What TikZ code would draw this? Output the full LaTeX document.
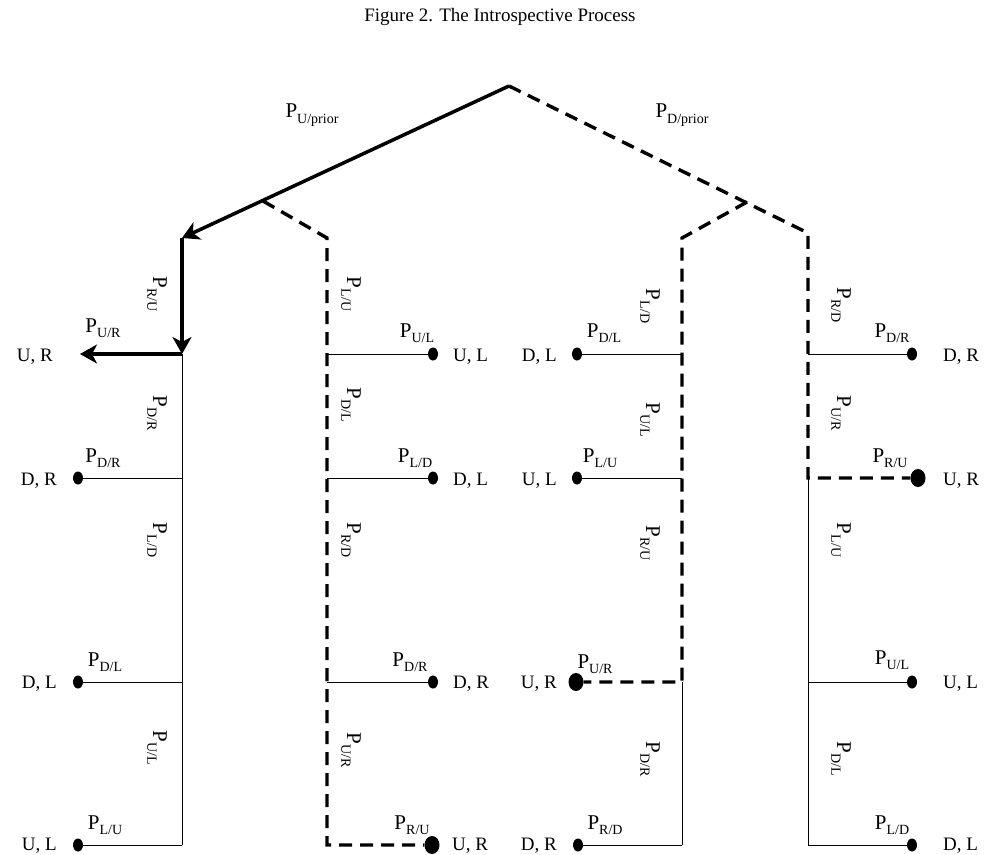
\documentclass[tikz,border=0pt]{standalone}
\usepackage{fontspec}
\setmainfont{Liberation Serif}
\usetikzlibrary{arrows.meta,shapes.geometric}
\newcommand\Pl[1]{P\raisebox{-0.28em}{\fontsize{14}{14}\selectfont #1}}
\begin{document}
\begin{tikzpicture}[x=1pt,y=-1pt,
  plab/.style={font=\fontsize{21}{22}\selectfont, inner sep=0pt},
  clab/.style={font=\fontsize{19}{20}\selectfont, inner sep=0pt},
  vlab/.style={plab, rotate=-90},
  dotn/.style={ellipse, fill=black, inner sep=0pt, minimum width=10pt, minimum height=13pt},
  bigdotn/.style={ellipse, fill=black, inner sep=0pt, minimum width=15pt, minimum height=18pt},
  thinln/.style={line width=1pt},
  boldln/.style={line width=3.5pt},
  dashln/.style={line width=3.4pt, dash pattern=on 13pt off 8pt},
  arr/.style={-{Stealth[length=17pt,width=19pt,inset=5pt]}}]
\useasboundingbox (0,0) rectangle (987,854);
\node[font=\fontsize{19}{20}\selectfont, inner sep=0pt] (title) at (500,17) {Figure 2. The Introspective Process};
% junction coordinates
\coordinate (apex) at (509,86);
\coordinate (lb) at (263,201);
\coordinate (rb) at (747,202);
\coordinate (L0) at (182,238);
\coordinate (L1) at (182,354);
\coordinate (L2) at (182,478);
\coordinate (L3) at (182,682);
\coordinate (L4) at (182,845);
\coordinate (A0) at (327,238);
\coordinate (A1) at (327,354);
\coordinate (A2) at (327,478);
\coordinate (A3) at (327,682);
\coordinate (A4) at (327,845);
\coordinate (B0) at (682,238);
\coordinate (B1) at (682,354);
\coordinate (B2) at (682,478);
\coordinate (B3) at (682,682);
\coordinate (B4) at (682,845);
\coordinate (C0) at (808,233);
\coordinate (C1) at (808,354);
\coordinate (C2) at (808,478);
\coordinate (C3) at (808,682);
\coordinate (C4) at (808,845);
\coordinate (Lend) at (80,354);
% dots
\node[dotn] (l2) at (78,478) {};
\node[dotn] (l3) at (78,682) {};
\node[dotn] (l4) at (78,845) {};
\node[dotn] (a1) at (433,354) {};
\node[dotn] (a2) at (433,478) {};
\node[dotn] (a3) at (433,682) {};
\node[bigdotn] (a4) at (432,845) {};
\node[dotn] (b1) at (577,354) {};
\node[dotn] (b2) at (577,478) {};
\node[bigdotn] (b3) at (576,682) {};
\node[dotn] (b4) at (578,845) {};
\node[dotn] (c1) at (912,354) {};
\node[bigdotn] (c2) at (918,478) {};
\node[dotn] (c3) at (912,682) {};
\node[dotn] (c4) at (912,845) {};
% left column
\draw[boldln, arr] (apex) -- (L0);
\draw[boldln, arr] (L0) -- (L1);
\draw[boldln, arr] (L1) -- (Lend);
\draw[thinln] (L1) -- (L4);
\draw[thinln] (L2) -- (l2);
\draw[thinln] (L3) -- (l3);
\draw[thinln] (L4) -- (l4);
% middle-left column
\draw[dashln] (lb) -- (A0) -- (A4) -- (a4);
\draw[thinln] (A1) -- (a1);
\draw[thinln] (A2) -- (a2);
\draw[thinln] (A3) -- (a3);
% middle-right column
\draw[dashln] (rb) -- (B0) -- (B3) -- (b3);
\draw[thinln] (B3) -- (B4);
\draw[thinln] (B1) -- (b1);
\draw[thinln] (B2) -- (b2);
\draw[thinln] (B4) -- (b4);
% right column
\draw[dashln] (apex) -- (C0) -- (C2) -- (c2);
\draw[thinln] (C2) -- (C4);
\draw[thinln] (C1) -- (c1);
\draw[thinln] (C3) -- (c3);
\draw[thinln] (C4) -- (c4);
% top labels
\node[plab] (pu) at (312,115) {\Pl{U/prior}};
\node[plab] (pd) at (682,115) {\Pl{D/prior}};
% state labels
\node[clab, anchor=base east] (tl1) at (53,361) {U, R};
\node[clab, anchor=base east] (tl2) at (57,485) {D, R};
\node[clab, anchor=base east] (tl3) at (57,688) {D, L};
\node[clab, anchor=base east] (tl4) at (57,850) {U, L};
\node[clab, anchor=base west] (ta1) at (453,361) {U, L};
\node[clab, anchor=base west] (ta2) at (453,485) {D, L};
\node[clab, anchor=base west] (ta3) at (453,688) {D, R};
\node[clab, anchor=base west] (ta4) at (452,850) {U, R};
\node[clab, anchor=base east] (tb1) at (557,361) {D, L};
\node[clab, anchor=base east] (tb2) at (557,485) {U, L};
\node[clab, anchor=base east] (tb3) at (557,688) {U, R};
\node[clab, anchor=base east] (tb4) at (557,850) {D, R};
\node[clab, anchor=base west] (tc1) at (943,361) {D, R};
\node[clab, anchor=base west] (tc2) at (943,485) {U, R};
\node[clab, anchor=base west] (tc3) at (943,688) {U, L};
\node[clab, anchor=base west] (tc4) at (943,850) {D, L};
% horizontal probability labels
\node[plab, anchor=base] (hl1) at (103,332) {\Pl{U/R}};
\node[plab, anchor=base] (hl2) at (103,462) {\Pl{D/R}};
\node[plab, anchor=base] (hl3) at (105,666) {\Pl{D/L}};
\node[plab, anchor=base] (hl4) at (105,829) {\Pl{L/U}};
\node[plab, anchor=base] (ha1) at (417,337) {\Pl{U/L}};
\node[plab, anchor=base] (ha2) at (415,462) {\Pl{L/D}};
\node[plab, anchor=base] (ha3) at (410,666) {\Pl{D/R}};
\node[plab, anchor=base] (ha4) at (412,829) {\Pl{R/U}};
\node[plab, anchor=base] (hb1) at (604,337) {\Pl{D/L}};
\node[plab, anchor=base] (hb2) at (600,462) {\Pl{L/U}};
\node[plab, anchor=base] (hb3) at (595,668) {\Pl{U/R}};
\node[plab, anchor=base] (hb4) at (605,829) {\Pl{R/D}};
\node[plab, anchor=base] (hc1) at (892,337) {\Pl{D/R}};
\node[plab, anchor=base] (hc2) at (890,462) {\Pl{R/U}};
\node[plab, anchor=base] (hc3) at (892,664) {\Pl{U/L}};
\node[plab, anchor=base] (hc4) at (892,829) {\Pl{L/D}};
% vertical probability labels
\node[vlab] (vl1) at (157,294) {\Pl{R/U}};
\node[vlab] (vl2) at (157,413) {\Pl{D/R}};
\node[vlab] (vl3) at (157,540) {\Pl{L/D}};
\node[vlab] (vl4) at (157,748) {\Pl{U/L}};
\node[vlab] (va1) at (351,294) {\Pl{L/U}};
\node[vlab] (va2) at (351,405) {\Pl{D/L}};
\node[vlab] (va3) at (351,540) {\Pl{R/D}};
\node[vlab] (va4) at (351,750) {\Pl{U/R}};
\node[vlab] (vb1) at (650,306) {\Pl{L/D}};
\node[vlab] (vb2) at (650,420) {\Pl{U/L}};
\node[vlab] (vb3) at (650,543) {\Pl{R/U}};
\node[vlab] (vb4) at (650,759) {\Pl{D/R}};
\node[vlab] (vc1) at (841,305) {\Pl{R/D}};
\node[vlab] (vc2) at (841,413) {\Pl{U/R}};
\node[vlab] (vc3) at (841,540) {\Pl{L/U}};
\node[vlab] (vc4) at (841,759) {\Pl{D/L}};
\end{tikzpicture}
\end{document}
